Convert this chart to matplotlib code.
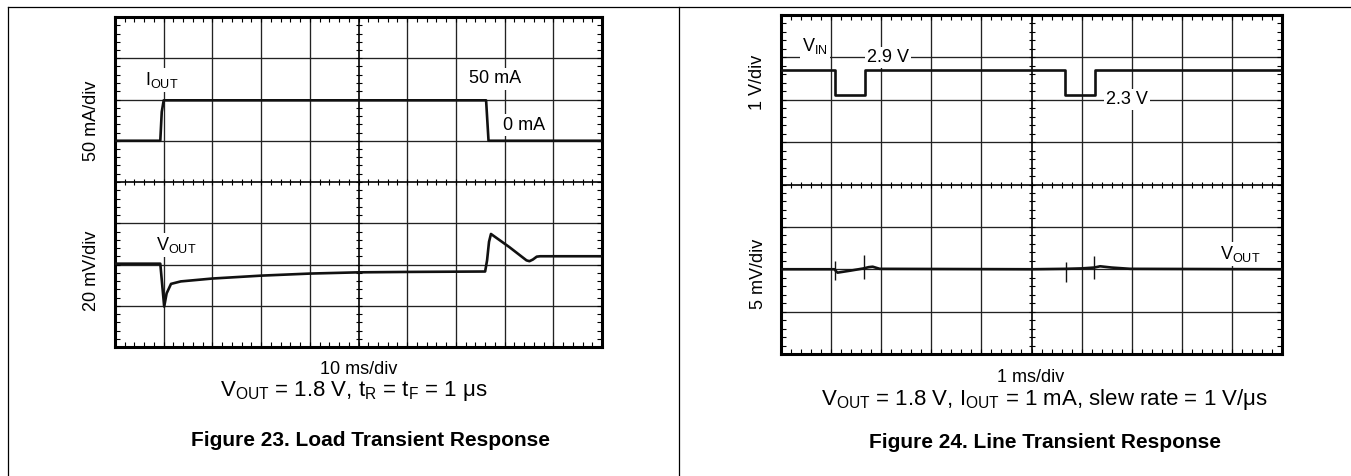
import numpy as np
import matplotlib
matplotlib.use("Agg")
import matplotlib.pyplot as plt
from matplotlib.lines import Line2D

plt.rcParams['font.family'] = ['Liberation Sans', 'DejaVu Sans']
plt.rcParams['mathtext.fontset'] = 'custom'
plt.rcParams['mathtext.rm'] = 'Liberation Sans'
plt.rcParams['mathtext.default'] = 'rm'

# --- data, in scope divisions (x: 0..10, y: 0..8) ---
# Figure 23, load transient
load_t_iout = [0, 0.93, 0.96, 1.0, 7.62, 7.67, 10]
load_iout = [5.0, 5.0, 5.7, 5.98, 5.98, 5.0, 5.0]
load_t_vout = [0, 0.93, 0.97, 1.01, 1.06, 1.15, 1.35, 2.0, 3.0, 4.0, 5.0, 6.0,
               7.6, 7.64, 7.68, 7.72, 8.1, 8.45, 8.51, 8.58, 8.66, 8.73, 10]
load_vout = [2.02, 2.02, 1.5, 0.98, 1.3, 1.53, 1.59, 1.66, 1.73, 1.78, 1.81, 1.82,
             1.83, 2.1, 2.55, 2.74, 2.42, 2.1, 2.08, 2.12, 2.19, 2.2, 2.2]

# Figure 24, line transient
line_t_vin = [0, 1.07, 1.07, 1.67, 1.67, 5.67, 5.67, 6.27, 6.27, 10]
line_vin = [6.7, 6.7, 6.11, 6.11, 6.7, 6.7, 6.11, 6.11, 6.7, 6.7]
line_t_vout = [0, 1.07, 1.1, 1.13, 1.4, 1.65, 1.75, 1.83, 1.97, 5.0,
               5.68, 6.0, 6.25, 6.37, 6.6, 6.97, 10]
line_vout = [2.0, 2.0, 1.95, 1.92, 1.97, 2.02, 2.05, 2.06, 2.01, 2.0,
             2.01, 2.02, 2.04, 2.07, 2.04, 2.01, 2.0]
spike_t = [1.08, 1.65, 5.68, 6.25]
spike_lo = [1.75, 1.76, 1.69, 1.76]
spike_hi = [2.20, 2.33, 2.16, 2.31]

W, H = 1351, 476
fig = plt.figure(figsize=(W / 100, H / 100), dpi=100)


def px_axes(x0, y0, x1, y1):
    return fig.add_axes([x0 / W, 1 - y1 / H, (x1 - x0) / W, (y1 - y0) / H])


def ftext(x, y, s, **kw):
    fig.text(x / W, 1 - y / H, s, ha='center', va='center', **kw)


def scope(ax):
    gc = '#222222'
    ax.set_xlim(0, 10)
    ax.set_ylim(0, 8)
    for x in range(1, 10):
        if x != 5:
            ax.axvline(x, color=gc, lw=0.95, zorder=1)
    for y in range(1, 8):
        if y != 4:
            ax.axhline(y, color=gc, lw=0.95, zorder=1)
    ax.axvline(5, color='k', lw=1.2, zorder=1)
    ax.axhline(4, color='k', lw=1.2, zorder=1)
    mx = np.arange(0.2, 10, 0.2)
    my = np.arange(0.2, 8, 0.2)
    ax.plot(mx, np.full(len(mx), 4.0), ls='none', marker='|', ms=4.5, mew=0.8, color='k', zorder=2)
    ax.plot(np.full(len(my), 5.0), my, ls='none', marker='_', ms=4.5, mew=0.8, color='k', zorder=2)
    ax.set_xticks(range(11))
    ax.set_yticks(range(9))
    ax.set_xticks(np.arange(0, 10.01, 0.2), minor=True)
    ax.set_yticks(np.arange(0, 8.01, 0.2), minor=True)
    ax.tick_params(which='both', direction='in', length=3.8, width=0.8,
                   top=True, right=True, labelleft=False, labelbottom=False)
    for s in ax.spines.values():
        s.set_linewidth(2.2)


box = dict(facecolor='white', edgecolor='none', pad=1.5)
fs = 13

# --- Figure 23 ---
ax1 = px_axes(115, 17, 602, 347)
scope(ax1)
ax1.plot(load_t_iout, load_iout, color='#111111', lw=1.9, zorder=5)
ax1.plot(load_t_vout, load_vout, color='#111111', lw=1.9, zorder=5)
ax1.text(0.95, 6.47, 'I$_{OUT}$', fontsize=fs, ha='center', va='center', bbox=box, zorder=3)
ax1.text(7.8, 6.5, '50 mA', fontsize=fs, ha='center', va='center', bbox=box, zorder=3)
ax1.text(8.4, 5.38, '0 mA', fontsize=fs, ha='center', va='center', bbox=box, zorder=3)
ax1.text(1.25, 2.47, 'V$_{OUT}$', fontsize=fs, ha='center', va='center', bbox=box, zorder=3)

ftext(91, 121, '50 mA/div', fontsize=fs, rotation=90)
ftext(91, 271, '20 mV/div', fontsize=fs, rotation=90)
ftext(359, 369, '10 ms/div', fontsize=fs)
ftext(354, 391, 'V$_{OUT}$ = 1.8 V, t$_R$ = t$_F$ = 1 μs', fontsize=16)
ftext(371, 440, 'Figure 23. Load Transient Response', fontsize=15, fontweight='bold')

# --- Figure 24 ---
ax2 = px_axes(781, 15, 1282, 354)
scope(ax2)
ax2.plot(line_t_vin, line_vin, color='#111111', lw=1.9, zorder=5)
ax2.plot(line_t_vout, line_vout, color='#111111', lw=1.9, zorder=5)
ax2.vlines(spike_t, spike_lo, spike_hi, color='#111111', lw=1.0, zorder=5)
ax2.text(0.68, 7.26, 'V$_{IN}$', fontsize=fs, ha='center', va='center', bbox=box, zorder=3)
ax2.text(2.14, 7.0, '2.9 V', fontsize=fs, ha='center', va='center', bbox=box, zorder=3)
ax2.text(6.9, 6.0, '2.3 V', fontsize=fs, ha='center', va='center', bbox=box, zorder=3)
ax2.text(9.16, 2.36, 'V$_{OUT}$', fontsize=fs, ha='center', va='center', bbox=box, zorder=3)

ftext(757, 82, '1 V/div', fontsize=fs, rotation=90)
ftext(758, 274, '5 mV/div', fontsize=fs, rotation=90)
ftext(1031, 377, '1 ms/div', fontsize=fs)
ftext(1044, 399, 'V$_{OUT}$ = 1.8 V, I$_{OUT}$ = 1 mA, slew rate = 1 V/μs', fontsize=16)
ftext(1045, 443, 'Figure 24. Line Transient Response', fontsize=15, fontweight='bold')

# panel borders
for (xa, ya, xb, yb) in [(8, 7, W, 7), (8, 7, 8, H), (679, 7, 679, H)]:
    fig.add_artist(Line2D([xa / W, xb / W], [1 - ya / H, 1 - yb / H],
                          transform=fig.transFigure, color='k', lw=0.9))

fig.savefig('out.png', dpi=100)
